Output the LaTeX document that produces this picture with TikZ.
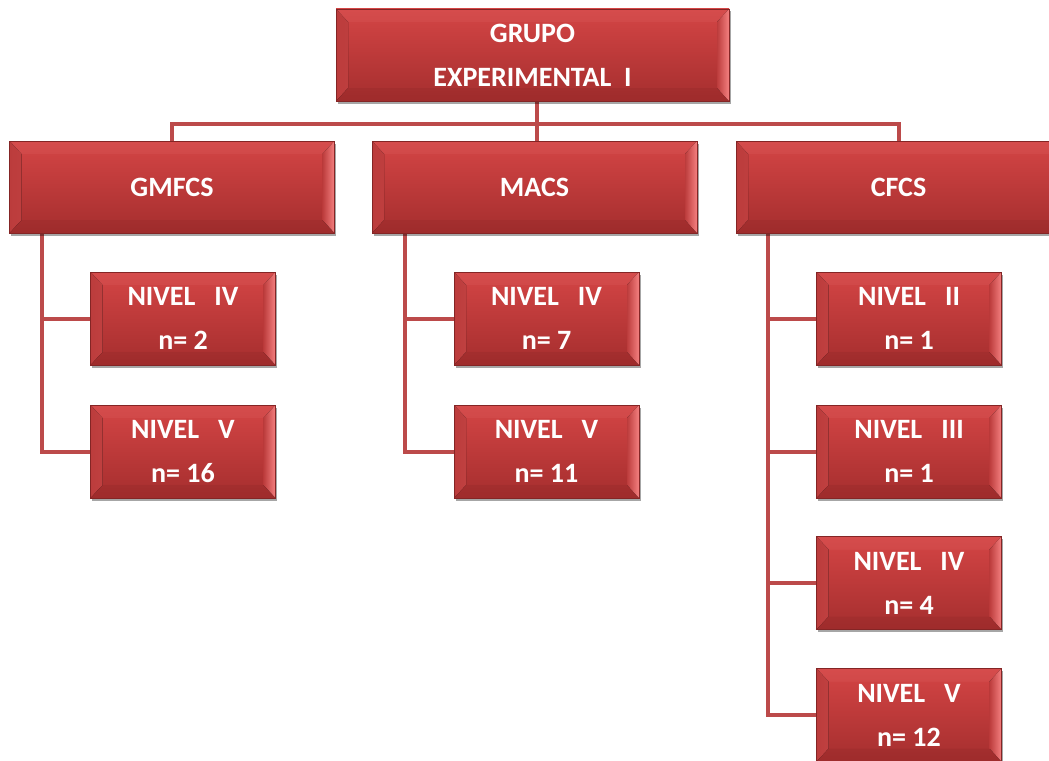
\documentclass[tikz,border=0pt]{standalone}
\usepackage{fontspec}
\setmainfont{Carlito}
\usetikzlibrary{calc,shadows,backgrounds}
\definecolor{faceT}{HTML}{D44545}
\definecolor{faceB}{HTML}{A52E2E}
\definecolor{bevLight}{HTML}{F48080}
\definecolor{bevDark}{HTML}{BC3C3C}
\definecolor{conncol}{HTML}{BC4A4A}
\tikzset{
  bevbox/.style={rectangle, draw=faceB!80!black, line width=0.6pt,
    top color=faceT, bottom color=faceB, text=white,
    font=\fontsize{28}{44}\selectfont\bfseries, align=center,
    drop shadow={shadow xshift=1.5pt, shadow yshift=-2.5pt, opacity=0.35, fill=black},
    path picture={
      \fill[left color=bevDark, right color=bevLight]
        (path picture bounding box.north west) -- ($(path picture bounding box.north west)+(12pt,-13pt)$)
        -- ($(path picture bounding box.south west)+(12pt,13pt)$) -- (path picture bounding box.south west) -- cycle;
      \fill[left color=bevDark, right color=bevLight]
        (path picture bounding box.north east) -- ($(path picture bounding box.north east)+(-12pt,-13pt)$)
        -- ($(path picture bounding box.south east)+(-12pt,13pt)$) -- (path picture bounding box.south east) -- cycle;
      \fill[faceT!85!white, opacity=0.25]
        (path picture bounding box.north west) -- ($(path picture bounding box.north west)+(12pt,-13pt)$)
        -- ($(path picture bounding box.north east)+(-12pt,-13pt)$) -- (path picture bounding box.north east) -- cycle;
      \fill[faceB!85!black, opacity=0.25]
        (path picture bounding box.south west) -- ($(path picture bounding box.south west)+(12pt,13pt)$)
        -- ($(path picture bounding box.south east)+(-12pt,13pt)$) -- (path picture bounding box.south east) -- cycle;
    }},
  wide/.style={minimum width=325pt, minimum height=92pt},
  small/.style={minimum width=185pt, minimum height=93pt},
  conn/.style={draw=conncol, line width=4pt}
}
\begin{document}
\begin{tikzpicture}[x=1pt,y=-1pt]
\useasboundingbox (0,0) rectangle (1049,760);
\node[bevbox, minimum width=393pt, minimum height=92pt] (top) at (532.5,55) {GRUPO\\EXPERIMENTAL\ \ I};
\node[bevbox, wide] (gm) at (172,187) {GMFCS};
\node[bevbox, wide] (ma) at (534.5,187) {MACS};
\node[bevbox, wide] (cf) at (898.5,187) {CFCS};
\node[bevbox, small] (g4) at (183,318.5) {NIVEL\ \ \ IV\\n= 2};
\node[bevbox, small] (g5) at (183,451.5) {NIVEL\ \ \ V\\n= 16};
\node[bevbox, small] (m4) at (546.5,318.5) {NIVEL\ \ \ IV\\n= 7};
\node[bevbox, small] (m5) at (546.5,451.5) {NIVEL\ \ \ V\\n= 11};
\node[bevbox, small] (c2) at (909,318.5) {NIVEL\ \ \ II\\n= 1};
\node[bevbox, small] (c3) at (909,451.5) {NIVEL\ \ \ III\\n= 1};
\node[bevbox, small] (c4) at (909,583) {NIVEL\ \ \ IV\\n= 4};
\node[bevbox, small] (c5) at (909,715) {NIVEL\ \ \ V\\n= 12};
\coordinate (bar) at (537,124);
\coordinate (gmr) at (42,233);
\coordinate (mar) at (405,233);
\coordinate (cfr) at (768,233);
\begin{pgfonlayer}{background}
\draw[conn] (top.south -| bar) -- (bar);
\draw[conn] (gm.north) -- (gm.north |- bar) -- (cf.north |- bar) -- (cf.north);
\draw[conn] (ma.north -| bar) -- (bar);
\draw[conn] (gmr) |- (g5.west);
\draw[conn] (gmr |- g4.west) -- (g4.west);
\draw[conn] (mar) |- (m5.west);
\draw[conn] (mar |- m4.west) -- (m4.west);
\draw[conn] (cfr) |- (c5.west);
\draw[conn] (cfr |- c2.west) -- (c2.west);
\draw[conn] (cfr |- c3.west) -- (c3.west);
\draw[conn] (cfr |- c4.west) -- (c4.west);
\end{pgfonlayer}
\end{tikzpicture}
\end{document}
